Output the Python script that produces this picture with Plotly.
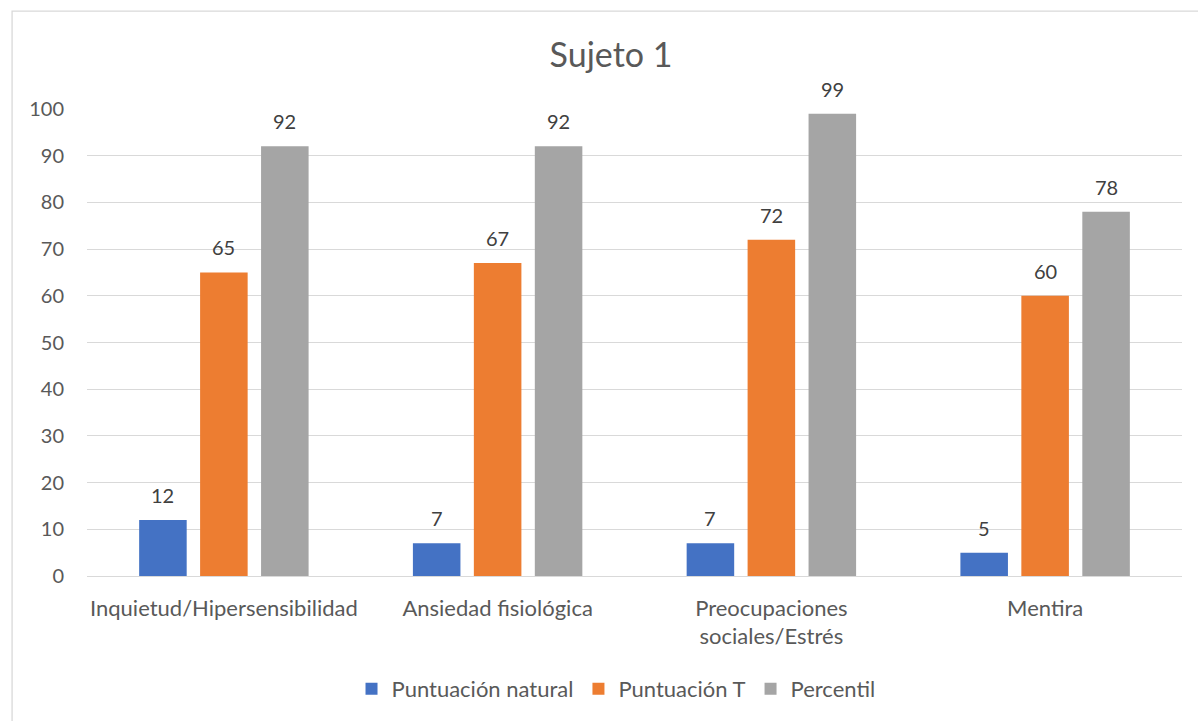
import plotly.graph_objects as go

# Scale scores for subject 1
categorias = ["Inquietud/Hipersensibilidad", "Ansiedad fisiológica",
              "Preocupaciones<br>sociales/Estrés", "Mentira"]
puntuacion_natural = [12, 7, 7, 5]
puntuacion_t = [65, 67, 72, 60]
percentil = [92, 92, 99, 78]

series = [
    ("Puntuación natural", puntuacion_natural, "#4472C4"),
    ("Puntuación T", puntuacion_t, "#ED7D31"),
    ("Percentil", percentil, "#A5A5A5"),
]

W, H = 1198, 721
ML, MR, MT, MB = 86.5, 15.5, 109.3, 145.3
FONT = "Lato"
BARGAP, GROUPGAP = 0.332, 0.22

pw, ph = W - ML - MR, H - MT - MB
cat_px = pw / len(categorias)
slot_px = (1 - BARGAP) * cat_px / len(series)

fig = go.Figure()
for i, (nombre, valores, color) in enumerate(series):
    fig.add_trace(go.Bar(
        name=nombre, x=categorias, y=valores,
        marker=dict(color=color, line=dict(width=0)),
    ))
    # value labels sitting above each bar
    for cat, v in zip(categorias, valores):
        fig.add_annotation(
            x=cat, y=v, xref="x", yref="y", text=str(v), showarrow=False,
            xshift=(i - (len(series) - 1) / 2) * slot_px, yshift=25,
            yanchor="middle", xanchor="center",
            font=dict(family=FONT, size=20, color="#404040"),
        )

# chart-area frame (top and left edges fall inside the page)
fx0 = (11.5 - ML) / pw
fy1 = (H - MB - 11.5) / ph
fig.add_shape(type="rect", xref="paper", yref="paper",
              x0=fx0, x1=1.2, y0=-1.0, y1=fy1,
              line=dict(color="#D9D9D9", width=1.3), layer="below")

fig.update_layout(
    width=W, height=H,
    margin=dict(l=ML, r=MR, t=MT, b=MB, autoexpand=False),
    paper_bgcolor="white", plot_bgcolor="white",
    font=dict(family=FONT, color="#595959", size=21),
    title=dict(text="Sujeto 1", x=(611 - ML) / pw, xref="paper", xanchor="center",
               y=1 - 55 / H, yref="container", yanchor="middle",
               font=dict(family=FONT, size=34, color="#595959")),
    barmode="group", bargap=BARGAP, bargroupgap=GROUPGAP,
    showlegend=True,
    legend=dict(orientation="h", x=(616 - ML) / pw, xanchor="center", xref="paper",
                y=1 - 689 / H, yref="container", yanchor="middle",
                font=dict(family=FONT, size=22, color="#595959"),
                itemwidth=30, traceorder="normal"),
    xaxis=dict(showgrid=False, showline=True, linecolor="#D9D9D9", linewidth=1.3,
               ticks="", ticklabelstandoff=12,
               tickfont=dict(family=FONT, size=22, color="#595959")),
    yaxis=dict(range=[0, 100], dtick=10, showgrid=True, gridcolor="#D9D9D9",
               gridwidth=1.3, zeroline=False, showline=False, ticks="",
               ticklabelstandoff=22,
               tickfont=dict(family=FONT, size=20, color="#595959")),
)

fig.write_html("out.html")
